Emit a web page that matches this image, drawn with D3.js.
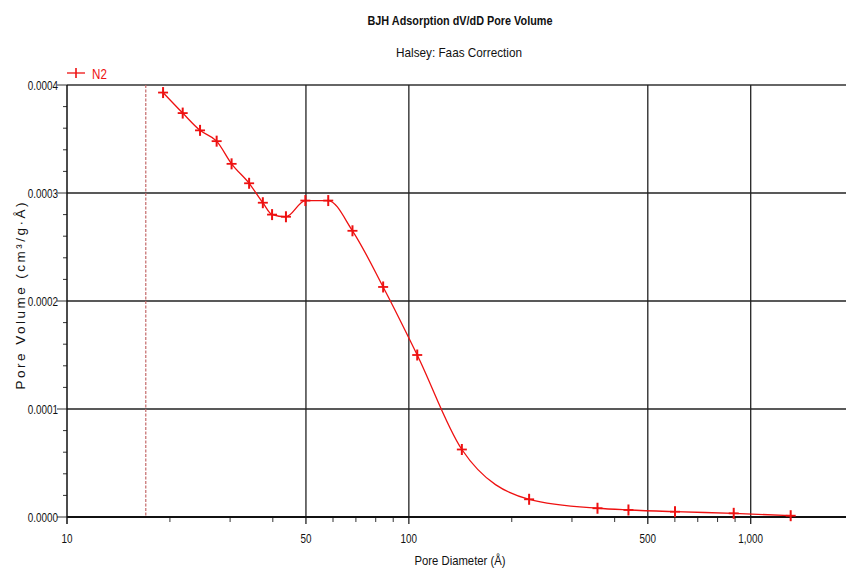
<!DOCTYPE html>
<html>
    <head>
        <title>BJH Adsorption</title>
        <meta charset="utf-8">
        <style>
            html, body {
                margin: 0px;
                padding: 0px;
                background-color: #fff;
            }

            svg text {
                font-family: "Liberation Sans", Arial, sans-serif;
                fill: #111;
            }

            .title {
                font-size: 12.5px;
                font-weight: bold;
            }

            .subtitle {
                font-size: 13.5px;
            }

            .tick-label {
                font-size: 13px;
            }

            .axis-title {
                font-size: 13.5px;
            }
        </style>
        <script src="https://cdn.jsdelivr.net/npm/d3@7"></script>
    </head>
    <body>
        <div id="main"></div>

        <script>
            // pore diameter (Å) and dV/dD pore volume (cm³/g·Å)
            var diameters = [19.1, 21.8, 24.5, 27.4, 30.3, 34.1, 37.4, 39.8, 43.7, 49.8, 58.1, 68.4,
                             84.1, 105.8, 142.9, 224.8, 356.3, 438.9, 600.6, 891.9, 1309];
            var volumes = [0.000393, 0.000374, 0.000358, 0.000348, 0.000327, 0.000309, 0.000291,
                           0.000280, 0.000278, 0.000293, 0.000293, 0.000265, 0.000213, 0.000150,
                           0.0000625, 0.0000164, 0.0000081, 0.0000065, 0.0000049, 0.0000034, 0.0000012];
            var xMajorTicks = [10, 50, 100, 500, 1000];
            var xMinorTicks = [20, 30, 40, 60, 70, 80, 90, 200, 300, 400, 600, 700, 800, 900];
            var xGrid = [50, 100, 500, 1000];
            var yMajorTicks = [0, 0.0001, 0.0002, 0.0003, 0.0004];
            var yMinorTicks = [0.00002, 0.00004, 0.00006, 0.00008, 0.00012, 0.00014, 0.00016, 0.00018,
                               0.00022, 0.00024, 0.00026, 0.00028, 0.00032, 0.00034, 0.00036, 0.00038];
            var cutoff = 17;

            var width = 846;
            var height = 569;
            var plotLeft = 67, plotRight = 846, plotTop = 85, plotBottom = 517;
            var red = "#ee1111";

            // squeeze text to look like a narrow face
            function narrow(sel, ratio) {
                sel.each(function() {
                    var w = this.getComputedTextLength();
                    d3.select(this).attr("textLength", w * ratio).attr("lengthAdjust", "spacingAndGlyphs");
                });
            }

            function main() {
                var svg = d3.select("#main")
                            .append("svg")
                            .attr("width", width)
                            .attr("height", height);

                var x = d3.scaleLog().domain([10, 1900]).range([plotLeft, plotRight]);
                var y = d3.scaleLinear().domain([0, 0.0004]).range([plotBottom, plotTop]);

                var data = diameters.map(function(d, i) { return { d: d, v: volumes[i] }; });

                // horizontal grid
                svg.append("g").selectAll("line")
                    .data(yMajorTicks.slice(1))
                    .enter().append("line")
                    .attr("x1", plotLeft).attr("x2", plotRight)
                    .attr("y1", function(d) { return y(d); })
                    .attr("y2", function(d) { return y(d); })
                    .attr("stroke", function(d) { return d == 0.0004 ? "#666" : "#222"; })
                    .attr("stroke-width", function(d) { return d == 0.0004 ? 2 : 1.3; });

                // vertical grid
                svg.append("g").selectAll("line")
                    .data(xGrid)
                    .enter().append("line")
                    .attr("x1", function(d) { return x(d); })
                    .attr("x2", function(d) { return x(d); })
                    .attr("y1", plotTop).attr("y2", plotBottom + 7)
                    .attr("stroke", "#222")
                    .attr("stroke-width", 1.3);

                // minor x ticks
                svg.append("g").selectAll("line")
                    .data(xMinorTicks)
                    .enter().append("line")
                    .attr("x1", function(d) { return x(d); })
                    .attr("x2", function(d) { return x(d); })
                    .attr("y1", plotBottom).attr("y2", plotBottom + 5)
                    .attr("stroke", "#333");

                // y ticks
                svg.append("g").selectAll("line")
                    .data(yMinorTicks)
                    .enter().append("line")
                    .attr("x1", plotLeft - 4).attr("x2", plotLeft)
                    .attr("y1", function(d) { return y(d); })
                    .attr("y2", function(d) { return y(d); })
                    .attr("stroke", "#333");

                svg.append("g").selectAll("line")
                    .data(yMajorTicks)
                    .enter().append("line")
                    .attr("x1", plotLeft - 10).attr("x2", plotLeft)
                    .attr("y1", function(d) { return y(d); })
                    .attr("y2", function(d) { return y(d); })
                    .attr("stroke", "#333");

                // axis lines
                svg.append("line")
                    .attr("x1", plotLeft).attr("x2", plotRight)
                    .attr("y1", plotBottom).attr("y2", plotBottom)
                    .attr("stroke", "#111").attr("stroke-width", 2);
                svg.append("line")
                    .attr("x1", plotLeft).attr("x2", plotLeft)
                    .attr("y1", plotTop).attr("y2", plotBottom + 7)
                    .attr("stroke", "#111").attr("stroke-width", 1.5);

                // tick labels
                svg.append("g").selectAll("text")
                    .data(yMajorTicks)
                    .enter().append("text")
                    .attr("class", "tick-label")
                    .attr("x", plotLeft - 9)
                    .attr("y", function(d) { return y(d) + 4.5; })
                    .style("text-anchor", "end")
                    .text(function(d) { return d.toFixed(4); })
                    .call(narrow, 0.76);

                svg.append("g").selectAll("text")
                    .data(xMajorTicks)
                    .enter().append("text")
                    .attr("class", "tick-label")
                    .attr("x", function(d) { return x(d); })
                    .attr("y", plotBottom + 26)
                    .style("text-anchor", "middle")
                    .text(function(d) { return d3.format(",")(d); })
                    .call(narrow, 0.76);

                // cutoff line
                svg.append("line")
                    .attr("x1", x(cutoff)).attr("x2", x(cutoff))
                    .attr("y1", plotTop).attr("y2", plotBottom)
                    .attr("stroke", "#c46a6a")
                    .attr("stroke-width", 1.2)
                    .attr("stroke-dasharray", "3,1.5");

                // data curve
                var line = d3.line()
                    .x(function(d) { return x(d.d); })
                    .y(function(d) { return y(d.v); })
                    .curve(d3.curveMonotoneX);

                svg.append("path")
                    .datum(data)
                    .attr("d", line)
                    .attr("fill", "none")
                    .attr("stroke", red)
                    .attr("stroke-width", 1.3);

                var marks = svg.append("g").selectAll("g")
                    .data(data)
                    .enter().append("g")
                    .attr("transform", function(d) { return "translate(" + x(d.d) + "," + y(d.v) + ")"; });
                marks.append("line").attr("x1", -5).attr("x2", 5)
                    .attr("stroke", red).attr("stroke-width", 1.8);
                marks.append("line").attr("y1", -5.5).attr("y2", 5.5)
                    .attr("stroke", red).attr("stroke-width", 2);

                // legend
                svg.append("line")
                    .attr("x1", 67).attr("x2", 85).attr("y1", 73).attr("y2", 73)
                    .attr("stroke", red).attr("stroke-width", 1.3);
                svg.append("line")
                    .attr("x1", 76).attr("x2", 76).attr("y1", 68).attr("y2", 78)
                    .attr("stroke", red).attr("stroke-width", 1.6);
                svg.append("text")
                    .attr("x", 92).attr("y", 79)
                    .style("font-size", "14.5px")
                    .style("fill", red)
                    .text("N2")
                    .call(narrow, 0.8);

                // titles
                svg.append("text")
                    .attr("class", "title")
                    .attr("x", 460).attr("y", 25)
                    .style("text-anchor", "middle")
                    .attr("textLength", 185).attr("lengthAdjust", "spacingAndGlyphs")
                    .text("BJH Adsorption dV/dD Pore Volume");
                svg.append("text")
                    .attr("class", "subtitle")
                    .attr("x", 459).attr("y", 57)
                    .style("text-anchor", "middle")
                    .attr("textLength", 126).attr("lengthAdjust", "spacingAndGlyphs")
                    .text("Halsey: Faas Correction");

                svg.append("text")
                    .attr("class", "axis-title")
                    .attr("x", 460).attr("y", 565)
                    .style("text-anchor", "middle")
                    .attr("textLength", 91).attr("lengthAdjust", "spacingAndGlyphs")
                    .text("Pore Diameter (Å)");

                svg.append("text")
                    .attr("class", "axis-title")
                    .attr("transform", "translate(25,296) rotate(-90)")
                    .style("text-anchor", "middle")
                    .attr("textLength", 187).attr("lengthAdjust", "spacing")
                    .text("Pore Volume (cm³/g·Å)");
            }

            main();
        </script>
    </body>
</html>
